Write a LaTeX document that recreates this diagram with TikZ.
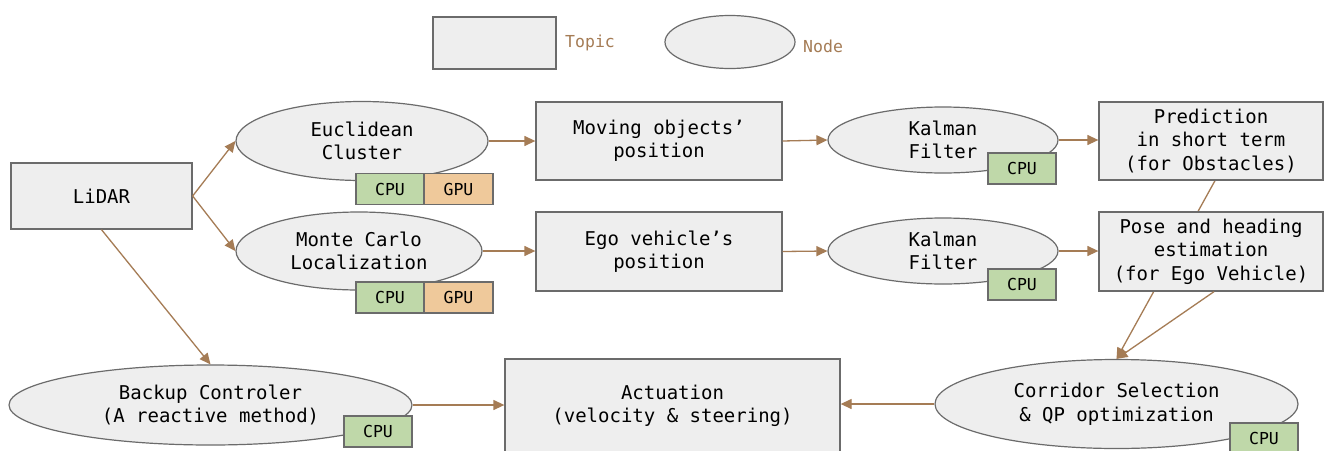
\documentclass[tikz,border=0pt]{standalone}
\usepackage{fontspec}
\newfontfamily\djmono{DejaVu Sans Mono}
\usetikzlibrary{shapes.geometric,arrows.meta}
\definecolor{boxfill}{HTML}{EEEEEE}
\definecolor{boxline}{HTML}{6B6B6B}
\definecolor{arrowc}{HTML}{A57C55}
\definecolor{cpuc}{HTML}{BFD8A9}
\definecolor{gpuc}{HTML}{EFC99B}
\pgfdeclarelayer{background}
\pgfsetlayers{background,main}
\tikzset{
  topicbox/.style={draw=boxline, fill=boxfill, line width=1.3pt, inner sep=0pt, align=center,
    font=\djmono\fontsize{19}{23.5}\selectfont},
  nodeell/.style={ellipse, draw=boxline, fill=boxfill, line width=1.2pt, inner sep=0pt, align=center,
    font=\djmono\fontsize{19}{23.5}\selectfont},
  cpubox/.style={draw=boxline, fill=cpuc, line width=1.2pt, inner sep=0pt, minimum width=68pt, minimum height=31pt,
    font=\djmono\fontsize{16.5}{20}\selectfont},
  gpubox/.style={cpubox, fill=gpuc, minimum width=69pt},
  legtext/.style={text=arrowc, font=\djmono\fontsize{16.5}{20}\selectfont, anchor=west, inner sep=0pt},
  conn/.style={draw=arrowc, line width=1.3pt, -{Triangle[length=11pt,width=10pt]}}
}
\begin{document}
\begin{tikzpicture}[x=1pt,y=-1pt]
\clip (0,0) rectangle (1325,450);
% legend
\node[topicbox, minimum width=123pt, minimum height=52pt] (legtopic) at (494.5,43) {};
\node[legtext] (legtopictxt) at (565,43) {Topic};
\node[nodeell, minimum width=130pt, minimum height=53pt] (legnode) at (730,42) {};
\node[legtext] (legnodetxt) at (803,46) {Node};
% first column
\node[topicbox, minimum width=181pt, minimum height=66pt] (lidar) at (101.5,196) {LiDAR};
% ellipses
\node[nodeell, minimum width=252pt, minimum height=79pt] (euc) at (362,141) {Euclidean\\Cluster};
\node[nodeell, minimum width=246pt, minimum height=78pt] (mcl) at (359,251) {Monte Carlo\\Localization};
\node[cpubox] (cpu1) at (390,189) {CPU};
\node[gpubox] (gpu1) at (458.5,189) {GPU};
\node[cpubox] (cpu2) at (390,297.5) {CPU};
\node[gpubox] (gpu2) at (458.5,297.5) {GPU};
% topics
\node[topicbox, minimum width=246pt, minimum height=78pt] (moving) at (659,141) {Moving objects’\\position};
\node[topicbox, minimum width=246pt, minimum height=79pt] (ego) at (659,251.5) {Ego vehicle’s\\position};
% kalman
\node[nodeell, minimum width=230pt, minimum height=66pt] (kal1) at (943,140) {Kalman\\Filter};
\node[cpubox] (cpu3) at (1022,168.5) {CPU};
\node[nodeell, minimum width=230pt, minimum height=66pt] (kal2) at (943,251) {Kalman\\Filter};
\node[cpubox] (cpu4) at (1022,284.5) {CPU};
% right topics
\node[topicbox, minimum width=224pt, minimum height=78pt] (pred) at (1211,141) {Prediction\\in short term\\(for Obstacles)};
\node[topicbox, minimum width=224pt, minimum height=79pt] (pose) at (1211,251.5) {Pose and heading\\estimation\\(for Ego Vehicle)};
% bottom row
\node[nodeell, minimum width=403pt, minimum height=80pt] (backup) at (210.5,405) {Backup Controler\\(A reactive method)};
\node[cpubox] (cpu5) at (378,431.5) {CPU};
\node[topicbox, minimum width=335pt, minimum height=94pt] (act) at (672.5,406) {Actuation\\(velocity \& steering)};
\node[nodeell, minimum width=363pt, minimum height=89pt] (corr) at (1116.5,404) {Corridor Selection\\\& QP optimization};
\node[cpubox] (cpu6) at (1264,438.5) {CPU};
% connectors
\begin{pgfonlayer}{background}
\fill[white] (0,0) rectangle (1325,450);
\draw[conn] ([xshift=4pt]pred.south) -- (corr.north);
\end{pgfonlayer}
\draw[conn] (lidar.east) -- (euc.west);
\draw[conn] (lidar.east) -- (mcl.west);
\draw[conn] (lidar.south) -- (backup.north);
\draw[conn] (euc.east) -- (moving.west);
\draw[conn] (mcl.east) -- (ego.west |- mcl.east);
\draw[conn] (moving.east) -- (kal1.west);
\draw[conn] (ego.east) -- (kal2.west);
\draw[conn] (kal1.east) -- (pred.west |- kal1.east);
\draw[conn] (kal2.east) -- (pose.west |- kal2.east);
\draw[conn] ([xshift=3pt]pose.south) -- (corr.north);
\draw[conn] (backup.east) -- (act.west |- backup.east);
\draw[conn] (corr.west) -- (act.east |- corr.west);
\end{tikzpicture}
\end{document}
